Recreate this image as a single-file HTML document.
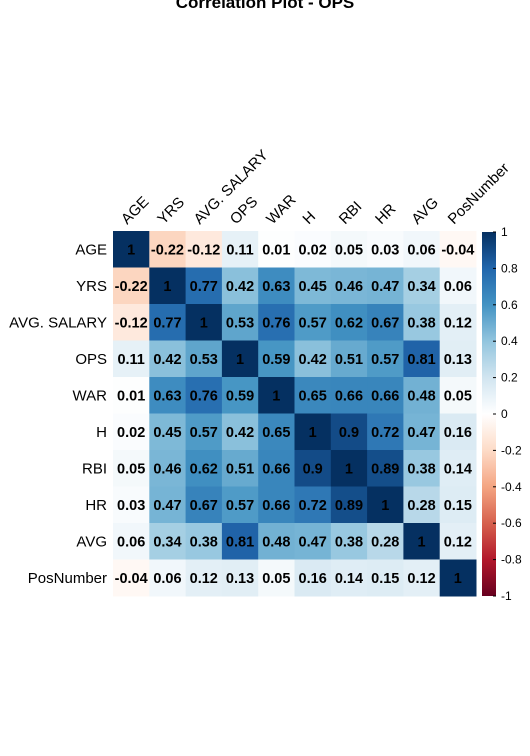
<!DOCTYPE html>
<html><head><meta charset="utf-8"><style>
html,body{margin:0;padding:0;background:#fff;}
svg{display:block;font-family:"Liberation Sans",Arial,sans-serif;}
</style></head><body>
<svg id="chart" width="530" height="756">
<text x="265" y="8" text-anchor="middle" font-size="17" font-weight="bold">Correlation Plot - OPS</text>
</svg>
<script>
const labels = ["AGE","YRS","AVG. SALARY","OPS","WAR","H","RBI","HR","AVG","PosNumber"];
const row0 = [1,-0.22,-0.12,0.11,0.01,0.02,0.05,0.03,0.06,-0.04];
const row1 = [-0.22,1,0.77,0.42,0.63,0.45,0.46,0.47,0.34,0.06];
const row2 = [-0.12,0.77,1,0.53,0.76,0.57,0.62,0.67,0.38,0.12];
const row3 = [0.11,0.42,0.53,1,0.59,0.42,0.51,0.57,0.81,0.13];
const row4 = [0.01,0.63,0.76,0.59,1,0.65,0.66,0.66,0.48,0.05];
const row5 = [0.02,0.45,0.57,0.42,0.65,1,0.9,0.72,0.47,0.16];
const row6 = [0.05,0.46,0.62,0.51,0.66,0.9,1,0.89,0.38,0.14];
const row7 = [0.03,0.47,0.67,0.57,0.66,0.72,0.89,1,0.28,0.15];
const row8 = [0.06,0.34,0.38,0.81,0.48,0.47,0.38,0.28,1,0.12];
const row9 = [-0.04,0.06,0.12,0.13,0.05,0.16,0.14,0.15,0.12,1];
const matrix = [row0,row1,row2,row3,row4,row5,row6,row7,row8,row9];
const ticks = [1,0.8,0.6,0.4,0.2,0,-0.2,-0.4,-0.6,-0.8,-1];

const NS="http://www.w3.org/2000/svg";
const svg=document.getElementById('chart');
const L=113,T=231,W=363,H=365,n=labels.length,cw=W/n,ch=H/n;
const xPos=j=>L+j*cw, yPos=i=>T+i*ch;
const stops=[[-1,[103,0,31]],[-0.8,[178,24,43]],[-0.6,[214,96,77]],[-0.4,[244,165,130]],[-0.2,[253,219,199]],[0,[255,255,255]],[0.2,[209,229,240]],[0.4,[146,197,222]],[0.6,[67,147,195]],[0.8,[33,102,172]],[1,[5,48,97]]];
function color(v){for(let k=0;k<stops.length-1;k++){const a=stops[k],b=stops[k+1];if(v<=b[0]){const t=(v-a[0])/(b[0]-a[0]);const c=a[1].map((x,i)=>Math.round(x+(b[1][i]-x)*t));return `rgb(${c})`;}}return 'rgb(5,48,97)';}
function mk(tag,attrs,txt){const e=document.createElementNS(NS,tag);for(const k in attrs)e.setAttribute(k,attrs[k]);if(txt!==undefined)e.textContent=txt;svg.appendChild(e);return e;}
matrix.forEach((row,i)=>{row.forEach((v,j)=>{
  const r=mk('rect',{x:xPos(j),y:yPos(i),width:cw+0.5,height:ch+0.5,fill:color(v)});
  
  
  const t=mk('text',{x:xPos(j)+cw/2,y:yPos(i)+ch/2+5,'text-anchor':'middle','font-size':'14.5','font-weight':'bold',fill:'#000'},String(v));
  
  
});});
labels.forEach((lab,i)=>{
  const t=mk('text',{x:L-6,y:yPos(i)+ch/2+5,'text-anchor':'end','font-size':'15'},lab);
  
  
  const cx=xPos(i)+cw/2-4,cy=T-6;
  const c=mk('text',{x:cx,y:cy,'font-size':'15',transform:`rotate(-45 ${cx} ${cy})`},lab);
  
  
});
const CX=482,CW=14,CT=232,CH=364;
const defs=mk('defs',{});
const g=document.createElementNS(NS,'linearGradient');g.setAttribute('id','cg');g.setAttribute('x1','0');g.setAttribute('y1','0');g.setAttribute('x2','0');g.setAttribute('y2','1');defs.appendChild(g);
for(let k=0;k<=20;k++){const v=1-k/10;const s=document.createElementNS(NS,'stop');s.setAttribute('offset',k/20);s.setAttribute('stop-color',color(v));g.appendChild(s);}
const cb=mk('rect',{x:CX,y:CT,width:CW,height:CH,fill:'url(#cg)'});


ticks.forEach(v=>{
  const y=CT+(1-v)/2*CH;
  mk('line',{x1:CX+CW-3,x2:CX+CW,y1:y,y2:y,stroke:'#000','stroke-width':1});
  const t=mk('text',{x:CX+CW+5,y:y+4,'font-size':'12'},String(v));
  
  
});
</script>
</body></html>
